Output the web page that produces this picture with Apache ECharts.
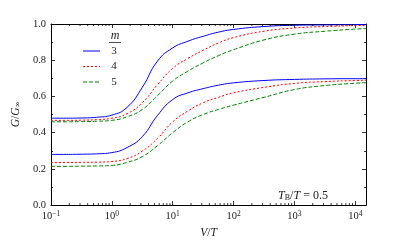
<!DOCTYPE html>
<html><head><meta charset="utf-8">
<script src="https://cdn.jsdelivr.net/npm/echarts@6/dist/echarts.min.js"></script>
<style>html,body{margin:0;padding:0;background:#fff}#c{width:407px;height:244px}</style>
</head><body><div id="c"></div>
<script>
// V/T sample positions
const vT = [0.1, 0.178, 0.316, 0.562, 1, 1.78, 3.16, 5.62, 10, 17.8, 31.6, 56.2, 100, 316, 1000, 3162, 10000, 15000];
// upper family
const upper3 = [0.480, 0.480, 0.481, 0.485, 0.497, 0.540, 0.650, 0.795, 0.868, 0.905, 0.932, 0.955, 0.970, 0.986, 0.993, 0.995, 0.997, 0.997];
const upper4 = [0.468, 0.468, 0.469, 0.472, 0.480, 0.505, 0.565, 0.665, 0.755, 0.810, 0.855, 0.895, 0.925, 0.960, 0.978, 0.986, 0.991, 0.992];
const upper5 = [0.460, 0.460, 0.461, 0.463, 0.468, 0.488, 0.528, 0.605, 0.685, 0.740, 0.785, 0.825, 0.858, 0.912, 0.944, 0.960, 0.972, 0.975];
// lower family
const lower3 = [0.280, 0.280, 0.281, 0.283, 0.290, 0.318, 0.378, 0.495, 0.583, 0.620, 0.643, 0.662, 0.675, 0.688, 0.694, 0.697, 0.698, 0.698];
const lower4 = [0.235, 0.235, 0.236, 0.237, 0.241, 0.257, 0.298, 0.368, 0.460, 0.520, 0.565, 0.595, 0.620, 0.650, 0.672, 0.682, 0.688, 0.689];
const lower5 = [0.214, 0.214, 0.215, 0.216, 0.219, 0.236, 0.268, 0.328, 0.400, 0.460, 0.500, 0.528, 0.552, 0.595, 0.638, 0.660, 0.673, 0.676];
const legendNames = ['3', '4', '5'];
const xMin = 0.1, xMax = 15000;
const decades = [-1, 0, 1, 2, 3, 4];

const minorTicks = [];
decades.forEach(k => { for (let m = 2; m <= 9; m++) { const v = m * Math.pow(10, k); if (v < xMax) minorTicks.push(v); } });

const FONT = 'Liberation Serif';
const TXT = '#222';
const COLORS = ['#0000ff', '#ff0000', '#008000'];
const DASHES = ['solid', [2, 2], [4, 2]];

function mk(idx, ys) {
  return {
    type: 'line', name: legendNames[idx],
    data: vT.map((v, i) => [v, ys[i]]),
    smooth: 0.5, symbol: 'none', showSymbol: false,
    lineStyle: { color: COLORS[idx], width: 1, type: DASHES[idx] },
    itemStyle: { color: COLORS[idx] }, z: 3, silent: true
  };
}

function logLabel(v) {
  const e = Math.round(Math.log10(v));
  if (Math.abs(Math.log10(v) - e) > 1e-6) return '';
  return '{b|10}{s|' + String(e).replace('-', '\u2212') + '}';
}

const axLine = { show: true, onZero: false, lineStyle: { color: '#000', width: 1 } };
const axTick = { show: true, inside: true, length: 4, lineStyle: { color: '#000', width: 0.8 } };
const minTick = { show: true, splitNumber: 2, length: 2, lineStyle: { color: '#000', width: 0.8 } };

// legend key (title "m" with underline, then one row per m)
const legendGraphics = [
  { type: 'text', x: 115, y: 36, silent: true,
    style: { text: 'm', font: 'italic 12px "Liberation Serif"', fill: TXT, align: 'center', verticalAlign: 'middle' } },
  { type: 'line', silent: true, shape: { x1: 109, y1: 42.5, x2: 121, y2: 42.5 }, style: { stroke: TXT, lineWidth: 0.8 } }
];
legendNames.forEach((n, i) => {
  const y = 51 + i * 15.5;
  legendGraphics.push({ type: 'line', silent: true, shape: { x1: 83, y1: y, x2: 100, y2: y },
    style: { stroke: COLORS[i], lineWidth: 1, lineDash: Array.isArray(DASHES[i]) ? DASHES[i] : null } });
  legendGraphics.push({ type: 'text', x: 114, y: y, silent: true,
    style: { text: n, font: '11px "Liberation Serif"', fill: TXT, align: 'center', verticalAlign: 'middle' } });
});

const chart = echarts.init(document.getElementById('c'), null, { renderer: 'canvas' });
chart.setOption({
  animation: false,
  grid: { left: 51, right: 41, top: 24, bottom: 25, show: false },
  xAxis: [
    { type: 'log', logBase: 10, min: xMin, max: xMax, position: 'bottom',
      name: '{i|V}{n|/}{i|T}', nameLocation: 'middle', nameGap: 20,
      nameTextStyle: { rich: { i: { fontFamily: FONT, fontStyle: 'italic', fontSize: 11.5, color: TXT }, n: { fontFamily: FONT, fontSize: 11.5, color: TXT } } },
      axisLine: axLine, axisTick: axTick, splitLine: { show: false },
      axisLabel: { margin: 5, formatter: logLabel, showMaxLabel: false,
        rich: { b: { fontFamily: FONT, fontSize: 10.5, color: TXT, lineHeight: 13 },
                s: { fontFamily: FONT, fontSize: 7.5, color: TXT, verticalAlign: 'top', lineHeight: 8 } } } },
    { type: 'log', logBase: 10, min: xMin, max: xMax, position: 'top',
      axisLine: axLine, axisTick: axTick, splitLine: { show: false }, axisLabel: { show: false } }
  ],
  yAxis: [
    { type: 'value', min: 0, max: 1, interval: 0.2, position: 'left',
      name: '{i|G}{n|/}{i|G}{sub|\u221E}', nameLocation: 'middle', nameGap: 22, nameRotate: 90,
      nameTextStyle: { rich: { i: { fontFamily: FONT, fontStyle: 'italic', fontSize: 11.5, color: TXT },
                               n: { fontFamily: FONT, fontSize: 11.5, color: TXT },
                               sub: { fontFamily: FONT, fontSize: 8, color: TXT, verticalAlign: 'bottom', lineHeight: 8 } } },
      axisLine: axLine, axisTick: axTick, minorTick: minTick, splitLine: { show: false },
      axisLabel: { margin: 5, fontFamily: FONT, fontSize: 10.5, color: TXT, formatter: v => v.toFixed(1) } },
    { type: 'value', min: 0, max: 1, interval: 0.2, position: 'right',
      axisLine: axLine, axisTick: axTick, minorTick: minTick, splitLine: { show: false }, axisLabel: { show: false } }
  ],
  legend: { show: false },
  graphic: legendGraphics.concat([
    { type: 'text', x: 303, y: 196, silent: true,
      style: { text: '{i|T}{sub|B}{n|/}{i|T}{n| = 0.5}', align: 'center', verticalAlign: 'middle',
        rich: { i: { fontFamily: FONT, fontStyle: 'italic', fontSize: 12, fill: TXT, color: TXT },
                n: { fontFamily: FONT, fontSize: 12, fill: TXT, color: TXT },
                sub: { fontFamily: FONT, fontSize: 8, fill: TXT, color: TXT, verticalAlign: 'bottom', lineHeight: 8 } } } }
  ]),
  series: [
    mk(0, upper3), mk(1, upper4), mk(2, upper5),
    mk(0, lower3), mk(1, lower4), mk(2, lower5),
    { type: 'custom', xAxisIndex: 0, yAxisIndex: 0, silent: true, clip: false, z: 4,
      data: minorTicks.map(v => [v, 0]), encode: { x: 0, y: 1 },
      renderItem: function (params, api) {
        const cs = params.coordSys;
        const x = api.coord([api.value(0), 0])[0];
        const st = { stroke: '#000', lineWidth: 0.8 };
        return { type: 'group', children: [
          { type: 'line', shape: { x1: x, y1: cs.y + cs.height, x2: x, y2: cs.y + cs.height - 2 }, style: st },
          { type: 'line', shape: { x1: x, y1: cs.y, x2: x, y2: cs.y + 2 }, style: st }
        ] };
      } }
  ]
});
</script></body></html>
